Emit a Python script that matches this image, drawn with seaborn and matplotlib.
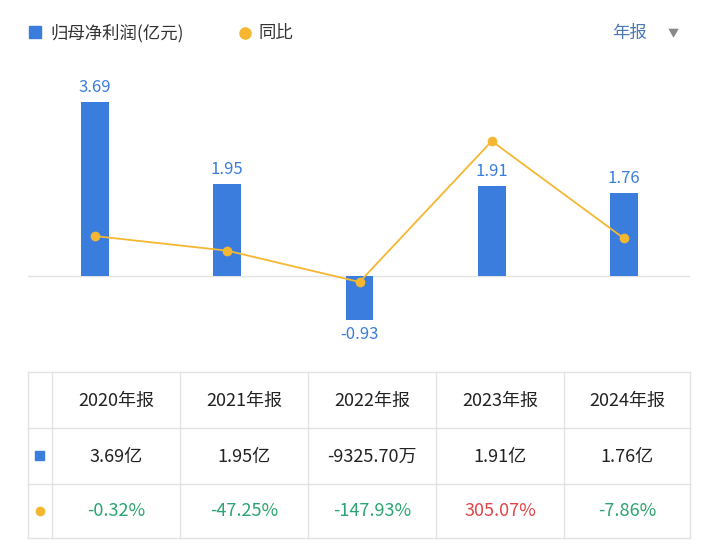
import numpy as np
import matplotlib
matplotlib.use("Agg")
import matplotlib.pyplot as plt
from matplotlib import font_manager
import seaborn as sns

# find an installed CJK font
cjk = None
for f in font_manager.fontManager.ttflist:
    if 'CJK' in f.name:
        cjk = f.name
        if 'SC' in f.name:
            break
if cjk is None:
    for path in font_manager.findSystemFonts():
        if 'CJK' in path:
            font_manager.fontManager.addfont(path)
            cjk = font_manager.FontProperties(fname=path).get_name()
            break
plt.rcParams['font.family'] = [cjk or 'Noto Sans CJK SC', 'DejaVu Sans']

# data
years = ['2020年报', '2021年报', '2022年报', '2023年报', '2024年报']
profit = [3.69, 1.95, -0.93, 1.91, 1.76]
profit_text = ['3.69亿', '1.95亿', '-9325.70万', '1.91亿', '1.76亿']
yoy = [-0.32, -47.25, -147.93, 305.07, -7.86]
yoy_text = ['-0.32%', '-47.25%', '-147.93%', '305.07%', '-7.86%']

BLUE = '#3B7DDD'
ORANGE = '#F5B731'
GREEN = '#2BA471'
RED = '#E0464A'
GRID = '#E3E3E3'

W, H = 720, 553
fig = plt.figure(figsize=(W / 100, H / 100), dpi=100)

# chart axes placed in pixel terms
left, right, top, bottom = 28, 690, 60, 350
ax = fig.add_axes([left / W, 1 - bottom / H, (right - left) / W, (bottom - top) / H])
sns.barplot(x=list(range(5)), y=profit, color=BLUE, width=0.21, ax=ax, saturation=1)
ax.set_xlim(-0.507, 4.499)
ax.set_ylim(-1.568, 4.576)
ax.axhline(0, color=GRID, lw=1, zorder=0)
for i, v in enumerate(profit):
    if v >= 0:
        ax.text(i, v + 0.12, f'{v:.2f}', ha='center', va='bottom', color=BLUE, fontsize=12)
    else:
        ax.text(i, v - 0.12, f'{v:.2f}', ha='center', va='top', color=BLUE, fontsize=12)
ax.axis('off')

ax2 = ax.twinx()
sns.lineplot(x=list(range(5)), y=yoy, color=ORANGE, lw=1.3, marker='o', markersize=7,
             markeredgewidth=0, ax=ax2)
ax2.set_ylim(-366.6, 565.9)
ax2.set_xlim(-0.507, 4.499)
ax2.axis('off')

# overlay for legend and table, pixel coordinates
ov = fig.add_axes([0, 0, 1, 1], zorder=-1)
ov.set_xlim(0, W)
ov.set_ylim(H, 0)
ov.axis('off')

ov.add_patch(plt.Rectangle((29, 26), 12, 12, color=BLUE))
ov.text(50, 33, '归母净利润(亿元)', va='center', fontsize=12.5, color='#333333')
ov.plot([245], [33], 'o', color=ORANGE, markersize=8)
ov.text(258, 33, '同比', va='center', fontsize=12.5, color='#333333')
ov.text(612, 33, '年报', va='center', fontsize=12.5, color='#4A78B8')
ov.text(668, 34, '▼', va='center', fontsize=8, color='#888888')

# table
rows_y = [372, 428, 484, 538]
cols_x = [28, 52, 180, 308, 436, 564, 690]
for y in rows_y:
    ov.plot([cols_x[0], cols_x[-1]], [y, y], color=GRID, lw=1)
for x in cols_x:
    ov.plot([x, x], [rows_y[0], rows_y[-1]], color=GRID, lw=1)
centers = [(cols_x[i + 1] + cols_x[i + 2]) / 2 for i in range(5)]
for i in range(5):
    ov.text(centers[i], 401, years[i], ha='center', va='center', fontsize=13, color='#222222')
    ov.text(centers[i], 457, profit_text[i], ha='center', va='center', fontsize=13, color='#222222')
    c = RED if yoy[i] > 0 else GREEN
    ov.text(centers[i], 511, yoy_text[i], ha='center', va='center', fontsize=13, color=c)
ov.add_patch(plt.Rectangle((35, 451), 9, 9, color=BLUE))
ov.plot([40], [511], 'o', color=ORANGE, markersize=6)

fig.savefig('out.png', dpi=100)
